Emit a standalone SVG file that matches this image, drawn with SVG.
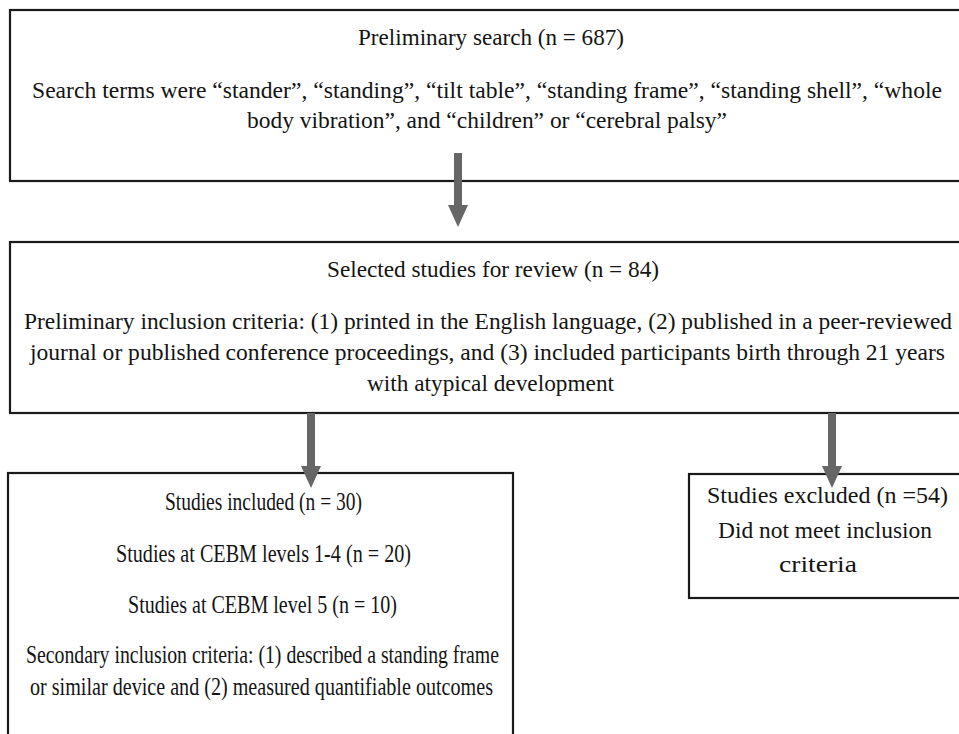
<svg xmlns="http://www.w3.org/2000/svg" width="959" height="734" viewBox="0 0 959 734">
  <style>
    .box { fill: #ffffff; stroke: #1a1a1a; stroke-width: 2.2; }
    .t { font-family: "Liberation Serif", "Times New Roman", serif; font-size: 24px; fill: #141414; }
    .s { font-size: 25px; }
    .w { font-size: 22.5px; }
    .conn { stroke: #666666; stroke-width: 8; fill: none; }
  </style>
  <defs>
    <marker id="head" markerUnits="userSpaceOnUse" markerWidth="22" markerHeight="20" viewBox="0 -10 22 20" refX="0" refY="0" orient="auto">
      <path d="M0,-10 L22,0 L0,10 z" fill="#666666"/>
    </marker>
  </defs>
  <rect width="959" height="734" fill="#ffffff"/>

  <g id="node-search">
    <rect class="box" x="10" y="10" width="965" height="171"/>
    <text class="t" x="358" y="45" textLength="266" lengthAdjust="spacingAndGlyphs">Preliminary search (n = 687)</text>
    <text class="t" x="32" y="98" textLength="910" lengthAdjust="spacingAndGlyphs">Search terms were “stander”, “standing”, “tilt table”, “standing frame”, “standing shell”, “whole</text>
    <text class="t" x="247" y="128" textLength="480" lengthAdjust="spacingAndGlyphs">body vibration”, and “children” or “cerebral palsy”</text>
  </g>

  <g id="node-selected">
    <rect class="box" x="10" y="242" width="965" height="171"/>
    <text class="t" x="327" y="277" textLength="332" lengthAdjust="spacingAndGlyphs">Selected studies for review (n = 84)</text>
    <text class="t w" x="24" y="329" textLength="928" lengthAdjust="spacingAndGlyphs">Preliminary inclusion criteria: (1) printed in the English language, (2) published in a peer-reviewed</text>
    <text class="t w" x="30" y="360" textLength="915" lengthAdjust="spacingAndGlyphs">journal or published conference proceedings, and (3) included participants birth through 21 years</text>
    <text class="t" x="367" y="391" textLength="247" lengthAdjust="spacingAndGlyphs">with atypical development</text>
  </g>

  <g id="node-included">
    <rect class="box" x="8" y="473" width="505" height="280"/>
    <text class="t s" x="165" y="510" textLength="197" lengthAdjust="spacingAndGlyphs">Studies included (n = 30)</text>
    <text class="t s" x="116" y="562" textLength="295" lengthAdjust="spacingAndGlyphs">Studies at CEBM  levels 1-4 (n = 20)</text>
    <text class="t s" x="128" y="613" textLength="269" lengthAdjust="spacingAndGlyphs">Studies at CEBM  level 5 (n = 10)</text>
    <text class="t s" x="26" y="663" textLength="473" lengthAdjust="spacingAndGlyphs">Secondary inclusion criteria: (1) described a standing frame</text>
    <text class="t s" x="30" y="695" textLength="463" lengthAdjust="spacingAndGlyphs">or similar device and (2) measured quantifiable outcomes</text>
  </g>

  <g id="node-excluded">
    <rect class="box" x="689" y="474" width="276" height="124"/>
    <text class="t" x="707" y="503" textLength="241" lengthAdjust="spacingAndGlyphs">Studies excluded (n =54)</text>
    <text class="t" x="718" y="538" textLength="214" lengthAdjust="spacingAndGlyphs">Did not meet inclusion</text>
    <text class="t" x="779" y="572" textLength="78" lengthAdjust="spacingAndGlyphs">criteria</text>
  </g>

  <g id="connectors">
    <line class="conn" x1="458" y1="153" x2="458" y2="205" marker-end="url(#head)"/>
    <line class="conn" x1="311" y1="413" x2="311" y2="466" marker-end="url(#head)"/>
    <line class="conn" x1="832" y1="413" x2="832" y2="466" marker-end="url(#head)"/>
  </g>
</svg>
